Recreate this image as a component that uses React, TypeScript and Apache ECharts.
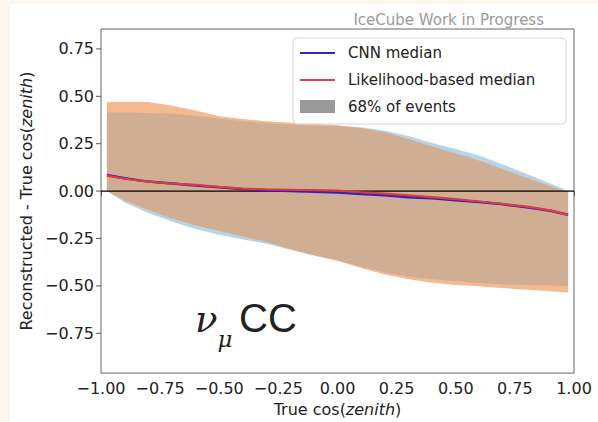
import React, { useEffect, useRef } from "react";
import * as echarts from "echarts";

const xBins = [-0.975, -0.9, -0.8, -0.7, -0.6, -0.5, -0.4, -0.3, -0.2, -0.1, 0, 0.1, 0.2, 0.3, 0.4, 0.5, 0.6, 0.7, 0.8, 0.9, 0.975];
const cnnMedian = [0.085, 0.068, 0.05, 0.04, 0.03, 0.02, 0.01, 0.004, 0.0, -0.004, -0.007, -0.015, -0.022, -0.032, -0.038, -0.048, -0.058, -0.07, -0.085, -0.104, -0.125];
const likeMedian = [0.082, 0.065, 0.05, 0.04, 0.033, 0.022, 0.013, 0.009, 0.007, 0.005, 0.003, -0.006, -0.013, -0.022, -0.032, -0.042, -0.055, -0.068, -0.082, -0.102, -0.125];
const cnnLow = [0.0, -0.06, -0.115, -0.16, -0.2, -0.23, -0.255, -0.278, -0.31, -0.34, -0.365, -0.4, -0.43, -0.45, -0.465, -0.475, -0.485, -0.492, -0.495, -0.498, -0.5];
const cnnHigh = [0.415, 0.415, 0.412, 0.408, 0.398, 0.382, 0.37, 0.358, 0.35, 0.345, 0.343, 0.337, 0.318, 0.29, 0.254, 0.222, 0.186, 0.14, 0.09, 0.04, 0.0];
const likeLow = [0.0, -0.05, -0.1, -0.145, -0.18, -0.21, -0.24, -0.268, -0.305, -0.338, -0.367, -0.405, -0.44, -0.465, -0.483, -0.495, -0.502, -0.512, -0.52, -0.528, -0.535];
const likeHigh = [0.47, 0.47, 0.47, 0.45, 0.425, 0.395, 0.38, 0.368, 0.36, 0.355, 0.347, 0.333, 0.31, 0.275, 0.235, 0.198, 0.16, 0.115, 0.07, 0.025, -0.005];
const yTicks = [-0.75, -0.5, -0.25, 0, 0.25, 0.5, 0.75];
const zeroLine = [[-1, 0], [1, 0]];

const FONT = "DejaVu Sans";

const fmt = (v: number) => {
  const r = Math.round(v * 100) / 100;
  if (Math.abs(r) < 1e-9) return "0.00";
  return (r < 0 ? "\u2212" : "") + Math.abs(r).toFixed(2);
};

export default function App() {
  const ref = useRef<HTMLDivElement>(null);
  useEffect(() => {
    document.body.style.margin = "0";
    const chart = echarts.init(ref.current!, null, { renderer: "svg" });
    const overlapHigh = xBins.map((_, i) => Math.min(cnnHigh[i], likeHigh[i]));
    const overlapLow = xBins.map((_, i) => Math.max(cnnLow[i], likeLow[i]));
    const poly = (api: any, hi: number[], lo: number[]) => {
      const pts: number[][] = [];
      xBins.forEach((x, i) => pts.push(api.coord([x, hi[i]])));
      for (let i = xBins.length - 1; i >= 0; i--) pts.push(api.coord([xBins[i], lo[i]]));
      return pts;
    };
    const option: any = {
      animation: false,
      backgroundColor: "#fdf8ed",
      grid: { left: 101, top: 29, right: 24, bottom: 47, show: true, borderColor: "#666", borderWidth: 1, backgroundColor: "#fff" },
      xAxis: {
        type: "value", min: -1, max: 1, interval: 0.25,
        name: "True cos({i|zenith})", nameLocation: "middle", nameGap: 25,
        nameTextStyle: { fontFamily: FONT, fontSize: 16, color: "#222", rich: { i: { fontFamily: FONT, fontSize: 16, fontStyle: "italic", color: "#222" } } },
        axisLine: { show: false },
        axisTick: { show: true, length: 5, lineStyle: { color: "#555" } },
        axisLabel: { fontFamily: FONT, fontSize: 16, color: "#222", margin: 7, formatter: fmt },
        splitLine: { show: false },
      },
      yAxis: {
        type: "value", min: -0.96, max: 0.855,
        name: "Reconstructed - True cos({i|zenith})", nameLocation: "middle", nameGap: 64, nameRotate: 90,
        nameTextStyle: { fontFamily: FONT, fontSize: 16, color: "#222", rich: { i: { fontFamily: FONT, fontSize: 16, fontStyle: "italic", color: "#222" } } },
        axisLine: { show: false },
        axisTick: { show: false },
        axisLabel: { fontFamily: FONT, fontSize: 16, color: "#222", margin: 7, formatter: fmt, customValues: yTicks },
        splitLine: { show: false },
      },
      graphic: [
        { type: "rect", z: -10, shape: { x: 10, y: 4, width: 600, height: 430 }, style: { fill: "#fff" }, silent: true },
        { type: "text", x: 544, y: 20, style: { text: "IceCube Work in Progress", fill: "#9a9a9a", font: `15px ${FONT}`, align: "right", verticalAlign: "middle" } },
        { type: "rect", shape: { x: 293, y: 38, width: 273, height: 86, r: 4 }, style: { fill: "rgba(255,255,255,0.85)", stroke: "#d6d6d6", lineWidth: 1 }, z: 50 },
        { type: "line", shape: { x1: 300, y1: 53, x2: 335, y2: 53 }, style: { stroke: "#2a2acc", lineWidth: 2 }, z: 51 },
        { type: "text", x: 348, y: 53, style: { text: "CNN median", fill: "#222", font: `15px ${FONT}`, verticalAlign: "middle" }, z: 51 },
        { type: "line", shape: { x1: 300, y1: 80, x2: 335, y2: 80 }, style: { stroke: "#e04040", lineWidth: 2 }, z: 51 },
        { type: "text", x: 348, y: 80, style: { text: "Likelihood-based median", fill: "#222", font: `15px ${FONT}`, verticalAlign: "middle" }, z: 51 },
        { type: "rect", shape: { x: 300, y: 100, width: 35, height: 13 }, style: { fill: "#999" }, z: 51 },
        { type: "text", x: 348, y: 107, style: { text: "68% of events", fill: "#222", font: `15px ${FONT}`, verticalAlign: "middle" }, z: 51 },
        {
          type: "text", x: 195, y: 301, z: 40,
          style: {
            text: "{nu|\u03bd}{mu|\u03bc}",
            verticalAlign: "top",
            rich: {
              nu: { fontFamily: "DejaVu Serif", fontStyle: "italic", fontSize: 37, lineHeight: 37, verticalAlign: "top", fill: "#222" },
              mu: { fontFamily: "DejaVu Serif", fontStyle: "italic", fontSize: 23, lineHeight: 23, padding: [26, 0, 0, 0], verticalAlign: "top", fill: "#222" },
            },
          },
        },
        { type: "text", x: 239, y: 318, style: { text: "CC", fill: "#222", font: `40px "Liberation Sans"`, verticalAlign: "middle" }, z: 40 },
      ],
      series: [
        {
          type: "custom", name: "bands", z: 1, silent: true,
          data: [[0, 0]],
          renderItem: (params: any, api: any) => ({
            type: "group",
            children: [
              { type: "polygon", shape: { points: poly(api, cnnHigh, cnnLow) }, style: { fill: "#b6d4e9" } },
              { type: "polygon", shape: { points: poly(api, likeHigh, likeLow) }, style: { fill: "#f5b98f" } },
              { type: "polygon", shape: { points: poly(api, overlapHigh, overlapLow) }, style: { fill: "#d0ae93" } },
            ],
          }),
        },
        {
          type: "custom", name: "yticks", z: 2, silent: true, clip: false,
          data: [[0, 0]],
          renderItem: (params: any, api: any) => ({
            type: "group",
            children: yTicks.map((v) => {
              const p = api.coord([-1, v]);
              return { type: "line", shape: { x1: p[0] - 5, y1: p[1], x2: p[0], y2: p[1] }, style: { stroke: "#555", lineWidth: 1 } };
            }),
          }),
        },
        {
          type: "line", name: "zero", z: 3, data: zeroLine, symbol: "none", silent: true,
          lineStyle: { color: "#000", width: 1.3 },
        },
        {
          type: "line", name: "CNN median", z: 4, symbol: "none",
          data: xBins.map((x, i) => [x, cnnMedian[i]]),
          lineStyle: { color: "#2a22c8", width: 2.5 },
        },
        {
          type: "line", name: "Likelihood-based median", z: 5, symbol: "none",
          data: xBins.map((x, i) => [x, likeMedian[i]]),
          lineStyle: { color: "#e23a3a", width: 2.2 },
        },
      ],
    };
    chart.setOption(option);
    return () => chart.dispose();
  }, []);
  return <div ref={ref} style={{ width: 598, height: 422 }} />;
}
